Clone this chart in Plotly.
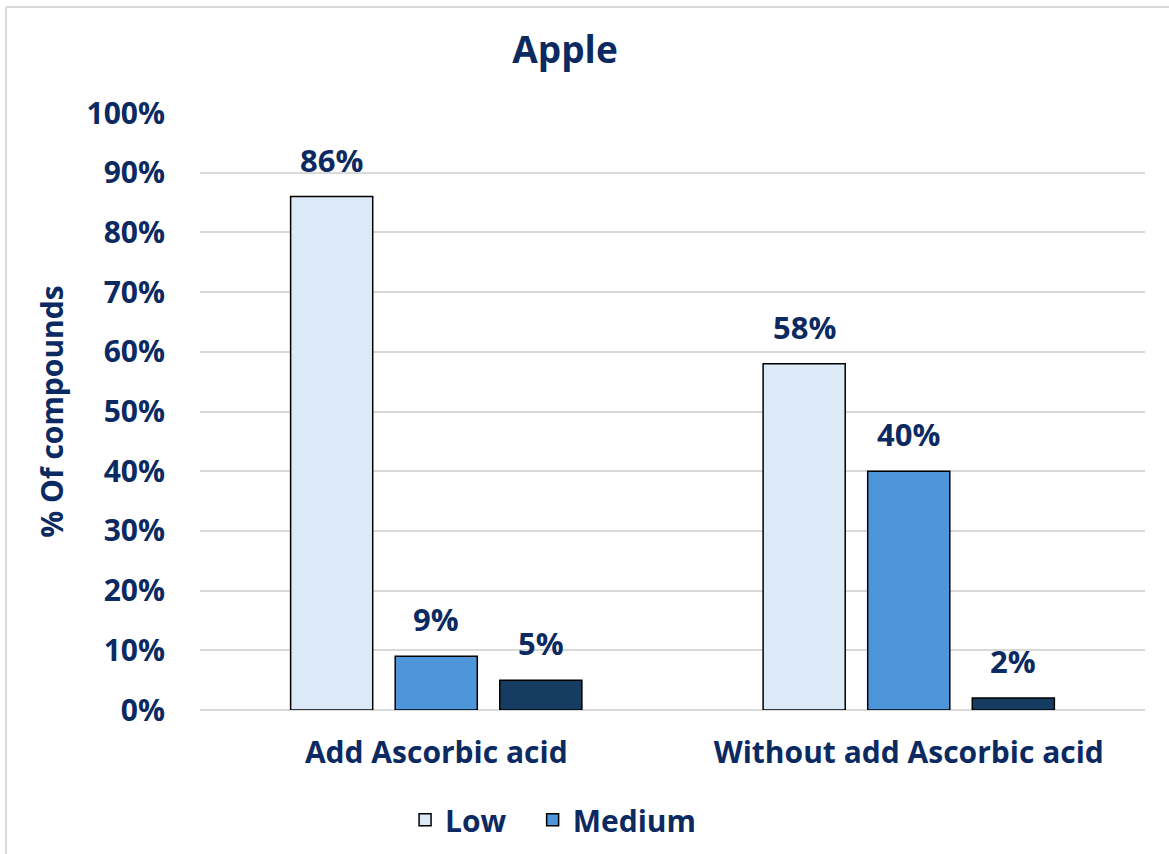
import plotly.graph_objects as go

# Data
categories = ["Add Ascorbic acid", "Without add Ascorbic acid"]
low = [86, 58]
medium = [9, 40]
high = [5, 2]

TEXT = "#0c2a62"
FONT = "Open Sans"

fig = go.Figure()
series = [
    ("Low", low, "#dce9f6", True, "legend"),
    ("Medium", medium, "#4e95d9", True, "legend2"),
    ("High", high, "#173c62", False, "legend"),
]
slot = 104.5  # pixel distance between neighbouring bars in a group
for i, (name, vals, color, show, leg) in enumerate(series):
    fig.add_trace(go.Bar(
        name=name, x=categories, y=vals,
        marker=dict(color=color, line=dict(color="#000000", width=1.5)),
        showlegend=show, legend=leg,
    ))
    # value labels above each bar
    for cat, v in zip(categories, vals):
        fig.add_annotation(
            x=cat, y=v, text=f"<b>{v}%</b>", showarrow=False,
            xshift=(i - 1) * slot, yshift=14, yanchor="bottom",
            font=dict(family=FONT, size=31, color=TEXT),
        )

legend_style = dict(orientation="h", xanchor="left", y=-0.184, yanchor="middle",
                    font=dict(family=FONT, size=30, color=TEXT, weight="bold"),
                    bgcolor="rgba(0,0,0,0)")

fig.update_layout(
    width=1169, height=854,
    paper_bgcolor="white", plot_bgcolor="white",
    margin=dict(l=200, r=24, t=113, b=144, autoexpand=False),
    barmode="group", bargap=0.336, bargroupgap=0.215,
    title=dict(text="<b>Apple</b>", x=565 / 1169, xanchor="center", xref="container",
               y=1 - 50 / 854, yanchor="middle",
               font=dict(family=FONT, size=37, color=TEXT)),
    font=dict(family=FONT, color=TEXT, size=20),
    legend=dict(x=0.217, **legend_style),
    legend2=dict(x=0.352, **legend_style),
)

fig.update_yaxes(
    range=[0, 100], dtick=10, ticksuffix="%",
    showgrid=True, gridcolor="#d9d9d9", gridwidth=2,
    zeroline=True, zerolinecolor="#d9d9d9", zerolinewidth=2,
    showline=False, automargin=False,
    tickfont=dict(family=FONT, size=30, color=TEXT, weight="bold"),
    ticks="outside", ticklen=28, tickcolor="rgba(0,0,0,0)",
    title=dict(text="<b>% Of compounds</b>", standoff=14,
               font=dict(family=FONT, size=30, color=TEXT)),
)
fig.update_xaxes(
    showline=False, showgrid=False, automargin=False,
    tickfont=dict(family=FONT, size=30, color=TEXT, weight="bold"),
    ticks="outside", ticklen=16, tickcolor="rgba(0,0,0,0)",
)

# Thin gray frame around the chart area
fig.add_shape(type="line", xref="paper", yref="paper",
              x0=-194 / 945, x1=1.2, y0=1 + 106 / 597, y1=1 + 106 / 597,
              line=dict(color="#d9d9d9", width=2))
fig.add_shape(type="line", xref="paper", yref="paper",
              x0=-194 / 945, x1=-194 / 945, y0=1 + 106 / 597, y1=-0.4,
              line=dict(color="#d9d9d9", width=2))

fig.write_html("out.html")
